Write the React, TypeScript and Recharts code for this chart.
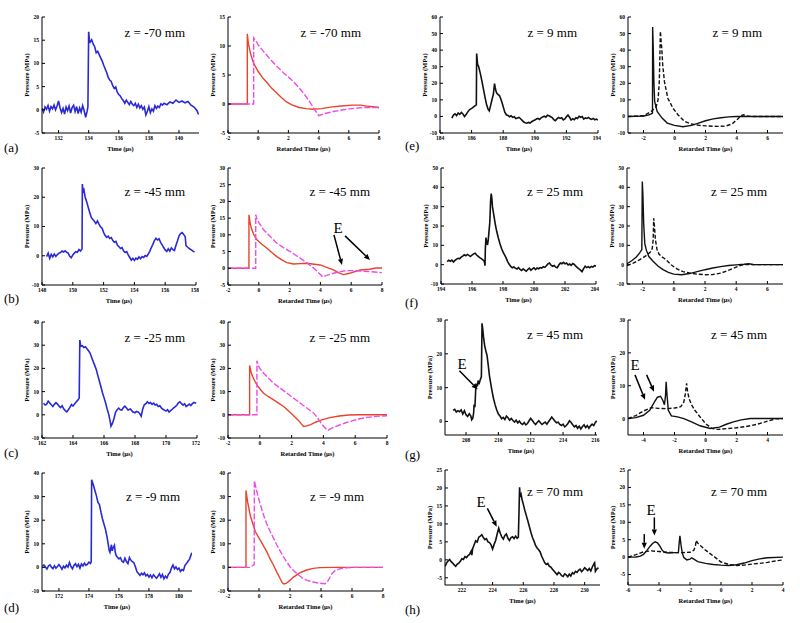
import React from "react";
import { LineChart, Line, XAxis, YAxis, ReferenceLine } from "recharts";

type Pt = [number, number];
type Seg = [number, number, number, number];

// ---- measured traces (left column of each pair) ----
const measA: Pt[] = [
  [130.9, 0.3], [131.0, -0.5], [131.1, 0.6], [131.2, 0.1], [131.3, 0.9], [131.4, -0.3], [131.5, 0.7], [131.6, 0.2],
  [131.7, 1.0], [131.8, 0.0], [131.9, 0.8], [132.0, 1.9], [132.1, 0.4], [132.2, -0.6], [132.3, 0.3], [132.4, -0.9],
  [132.5, 0.6], [132.6, -0.2], [132.7, 0.8], [132.8, -0.7], [132.9, 0.5], [133.0, 1.0], [133.1, -0.4], [133.2, 0.7],
  [133.3, -0.8], [133.4, 0.4], [133.5, -0.5], [133.6, 0.9], [133.7, -0.2], [133.8, -1.6], [133.9, -0.3], [133.95, 0.6],
  [134.0, 16.8], [134.05, 15.0], [134.1, 14.6], [134.2, 15.1], [134.3, 14.2], [134.4, 13.6], [134.5, 12.3], [134.6, 12.6],
  [134.7, 11.9], [134.8, 11.2], [134.9, 10.5], [135.0, 9.6], [135.1, 8.8], [135.2, 8.0], [135.3, 7.0], [135.4, 6.4],
  [135.5, 6.1], [135.6, 5.2], [135.7, 4.6], [135.8, 4.9], [135.9, 3.8], [136.0, 3.3], [136.1, 3.0], [136.2, 2.4],
  [136.3, 2.0], [136.4, 1.4], [136.5, 2.1], [136.6, 1.6], [136.7, 1.1], [136.8, 1.8], [136.9, 1.2], [137.0, 0.9],
  [137.1, 1.4], [137.2, 0.5], [137.3, 1.2], [137.4, 0.4], [137.5, 0.9], [137.6, 0.1], [137.7, 0.6], [137.8, -1.1],
  [137.9, -0.3], [138.0, 0.7], [138.1, -0.6], [138.2, 0.2], [138.3, -0.3], [138.4, 0.9], [138.5, 0.3], [138.6, 0.8],
  [138.7, 0.5], [138.8, 1.3], [138.9, 1.0], [139.0, 1.4], [139.2, 1.1], [139.4, 1.7], [139.6, 1.4], [139.8, 2.1],
  [140.0, 1.6], [140.2, 1.9], [140.4, 1.5], [140.6, 1.8], [140.8, 1.0], [141.0, 0.6], [141.2, -0.2], [141.3, -1.0],
];

const measB: Pt[] = [
  [148.3, -0.3], [148.4, 0.9], [148.5, -0.9], [148.6, 0.5], [148.7, -0.4], [148.8, 0.6], [148.9, -0.2], [149.0, 0.4],
  [149.1, 0.9], [149.2, 1.1], [149.3, 1.6], [149.4, 1.3], [149.5, 1.7], [149.6, 1.2], [149.7, 0.9], [149.8, -0.2],
  [149.9, -0.7], [150.0, 0.3], [150.1, 0.9], [150.2, 1.4], [150.3, 1.2], [150.4, 2.1], [150.5, 1.6], [150.6, 2.3],
  [150.62, 24.5], [150.66, 22.0], [150.72, 22.6], [150.8, 20.1], [150.9, 18.5], [151.0, 16.6], [151.1, 14.8], [151.2, 13.1],
  [151.3, 12.4], [151.4, 11.8], [151.5, 11.0], [151.6, 11.9], [151.7, 10.8], [151.8, 9.9], [151.9, 9.4], [152.0, 8.0],
  [152.1, 6.9], [152.2, 6.3], [152.3, 6.7], [152.4, 5.9], [152.5, 6.2], [152.6, 5.2], [152.7, 4.6], [152.8, 4.9],
  [152.9, 3.6], [153.0, 3.1], [153.1, 2.5], [153.2, 2.8], [153.3, 1.6], [153.4, 1.1], [153.5, 1.4], [153.6, 0.3],
  [153.7, -0.6], [153.8, -1.5], [153.9, -0.9], [154.0, -1.6], [154.1, -0.8], [154.2, -1.2], [154.3, -0.4], [154.4, -1.0],
  [154.5, -0.3], [154.6, -0.6], [154.7, 0.1], [154.8, -0.2], [154.9, 0.6], [155.0, 1.5], [155.1, 2.8], [155.2, 3.9],
  [155.3, 5.2], [155.4, 6.0], [155.5, 5.4], [155.6, 5.8], [155.7, 4.6], [155.8, 3.7], [155.9, 2.8], [156.0, 2.0],
  [156.1, 1.5], [156.2, 2.4], [156.3, 1.6], [156.4, 2.7], [156.5, 2.1], [156.6, 1.8], [156.7, 3.6], [156.8, 5.1],
  [156.9, 6.8], [157.0, 7.6], [157.1, 7.9], [157.2, 7.3], [157.3, 6.5], [157.35, 3.5], [157.45, 3.0], [157.6, 2.3],
  [157.7, 2.0], [157.8, 1.6], [157.9, 1.3],
];

const measC: Pt[] = [
  [162.1, 5.0], [162.2, 4.2], [162.3, 4.6], [162.4, 5.9], [162.5, 5.1], [162.6, 4.3], [162.7, 3.6], [162.8, 4.5],
  [162.9, 5.2], [163.0, 4.6], [163.1, 3.7], [163.2, 3.1], [163.3, 3.9], [163.4, 2.6], [163.5, 1.8], [163.6, 1.3],
  [163.7, 2.2], [163.8, 3.2], [163.9, 4.4], [164.0, 3.8], [164.1, 4.7], [164.2, 5.5], [164.3, 6.2], [164.4, 7.2],
  [164.44, 32.2], [164.5, 29.5], [164.6, 29.8], [164.7, 29.0], [164.8, 29.3], [164.9, 28.5], [165.0, 27.6], [165.1, 26.6],
  [165.2, 24.8], [165.3, 23.0], [165.4, 21.3], [165.5, 19.5], [165.6, 17.0], [165.7, 14.6], [165.8, 12.1], [165.9, 9.5],
  [166.0, 7.4], [166.1, 5.2], [166.2, 2.6], [166.3, 0.3], [166.4, -2.8], [166.45, -4.9], [166.55, -3.6], [166.65, -1.5],
  [166.75, 1.2], [166.85, 2.2], [166.95, 2.9], [167.05, 2.2], [167.15, 2.0], [167.25, 3.1], [167.35, 3.7], [167.45, 2.9],
  [167.55, 2.1], [167.7, 2.5], [167.85, 1.3], [168.0, 0.9], [168.1, 1.5], [168.2, 1.2], [168.3, 0.6], [168.4, -0.6],
  [168.5, 2.5], [168.6, 4.3], [168.7, 4.8], [168.8, 5.6], [168.9, 4.9], [169.0, 5.3], [169.1, 4.5], [169.2, 5.0],
  [169.3, 4.2], [169.4, 4.5], [169.5, 3.6], [169.6, 3.9], [169.7, 3.0], [169.8, 2.4], [169.9, 2.0], [170.0, 1.6],
  [170.1, 2.2], [170.2, 1.2], [170.3, 1.8], [170.4, 2.4], [170.5, 3.0], [170.6, 3.5], [170.7, 4.1], [170.8, 5.2],
  [170.9, 5.6], [171.0, 4.8], [171.1, 4.2], [171.2, 4.8], [171.3, 3.6], [171.4, 4.1], [171.5, 4.6], [171.6, 4.0],
  [171.7, 4.8], [171.8, 5.3], [171.95, 5.0],
];

const measD: Pt[] = [
  [170.9, 0.4], [171.0, 1.0], [171.1, 0.2], [171.2, -0.7], [171.3, 0.6], [171.4, 1.1], [171.5, 0.1], [171.6, -0.5],
  [171.7, 0.7], [171.8, -0.3], [171.9, 0.4], [172.0, 1.2], [172.1, 0.3], [172.2, -0.8], [172.3, 0.5], [172.4, -0.2],
  [172.5, 0.9], [172.6, 0.1], [172.7, 2.1], [172.8, 0.4], [172.9, -0.6], [173.0, 0.8], [173.1, 1.6], [173.2, 0.3],
  [173.3, 1.3], [173.4, -0.3], [173.5, 1.5], [173.6, 0.6], [173.7, 1.8], [173.8, 0.9], [173.9, 1.4], [174.0, 2.2],
  [174.1, 1.7], [174.15, 2.4], [174.18, 37.1], [174.25, 35.8], [174.3, 34.8], [174.4, 32.5], [174.5, 30.3], [174.6, 27.5],
  [174.7, 26.6], [174.8, 23.4], [174.9, 20.6], [175.0, 18.4], [175.1, 16.2], [175.2, 13.1], [175.3, 9.2], [175.35, 7.1],
  [175.4, 6.4], [175.45, 8.0], [175.5, 9.6], [175.55, 7.0], [175.6, 8.1], [175.7, 9.4], [175.75, 6.6], [175.8, 5.2],
  [175.9, 4.3], [176.0, 3.6], [176.1, 4.1], [176.2, 2.6], [176.3, 2.2], [176.4, 3.9], [176.5, 2.5], [176.6, 1.6],
  [176.7, 4.2], [176.8, 3.0], [176.9, 2.4], [177.0, 1.9], [177.1, 0.2], [177.2, -1.8], [177.3, -2.6], [177.4, -3.4],
  [177.5, -2.5], [177.6, -3.1], [177.7, -2.3], [177.8, -3.6], [177.9, -3.0], [178.0, -4.1], [178.1, -3.2], [178.2, -4.4],
  [178.3, -3.1], [178.4, -3.9], [178.5, -4.6], [178.6, -3.8], [178.7, -2.7], [178.8, -4.2], [178.9, -3.0], [179.0, -4.8],
  [179.1, -3.7], [179.2, -4.5], [179.3, -2.9], [179.4, -2.2], [179.5, -0.3], [179.6, 1.0], [179.7, -0.6], [179.8, 0.2],
  [179.9, -0.9], [180.0, -0.3], [180.1, -1.7], [180.2, -0.9], [180.3, -1.3], [180.4, 0.9], [180.5, 1.6], [180.6, 2.6],
  [180.7, 3.4], [180.8, 5.2], [180.85, 6.2],
];

const measE: Pt[] = [
  [184.75, -1.0], [184.85, 0.8], [184.95, 1.6], [185.05, 0.5], [185.15, 2.1], [185.25, 1.2], [185.35, 2.4], [185.45, 1.5],
  [185.55, -0.1], [185.65, 1.1], [185.75, 2.6], [185.85, 3.9], [185.95, 4.6], [186.05, 5.2], [186.15, 5.9], [186.25, 6.6],
  [186.3, 7.0], [186.32, 38.0], [186.38, 31.5], [186.45, 30.0], [186.55, 26.0], [186.65, 21.5], [186.75, 16.5], [186.85, 11.5],
  [186.95, 7.0], [187.05, 4.2], [187.12, 3.3], [187.2, 6.5], [187.3, 10.5], [187.38, 13.5], [187.45, 19.8], [187.5, 17.2],
  [187.55, 15.0], [187.6, 14.0], [187.68, 13.2], [187.76, 12.6], [187.85, 10.5], [187.93, 8.2], [188.0, 5.9], [188.1, 2.5],
  [188.2, 1.0], [188.3, 0.6], [188.4, -0.2], [188.5, 0.4], [188.6, -0.6], [188.7, -0.2], [188.8, -1.3], [188.9, -1.0],
  [189.0, -0.6], [189.1, -1.4], [189.2, -2.4], [189.3, -3.4], [189.4, -3.8], [189.5, -4.1], [189.6, -3.6], [189.7, -4.0],
  [189.8, -3.2], [189.9, -2.6], [190.0, -2.2], [190.1, -1.6], [190.2, -1.2], [190.3, -1.8], [190.4, -0.9], [190.5, -0.3],
  [190.6, 0.2], [190.7, -0.4], [190.8, 0.7], [190.9, 0.4], [191.0, -0.2], [191.1, -0.7], [191.2, -1.9], [191.3, -2.6],
  [191.4, -1.5], [191.5, -0.6], [191.6, -1.2], [191.7, -0.8], [191.8, -2.1], [191.9, -1.5], [192.0, -0.2], [192.1, 0.9],
  [192.2, -0.5], [192.3, -2.2], [192.4, -1.4], [192.5, -2.0], [192.6, -0.8], [192.7, -1.3], [192.8, 0.1], [192.9, -0.5],
  [193.0, -0.1], [193.1, -1.6], [193.2, -0.9], [193.3, -1.2], [193.4, -0.6], [193.5, -1.4], [193.6, -1.8], [193.7, -1.2],
  [193.8, -2.0], [193.9, -1.6], [194.0, -2.2],
];

const measF: Pt[] = [
  [194.4, 1.6], [194.5, 2.3], [194.6, 1.8], [194.7, 2.4], [194.8, 1.4], [194.9, 2.2], [195.0, 2.9], [195.1, 3.3],
  [195.2, 3.0], [195.3, 3.9], [195.4, 4.4], [195.5, 5.1], [195.6, 4.6], [195.7, 5.3], [195.8, 4.8], [195.9, 4.2],
  [196.0, 5.0], [196.1, 5.6], [196.2, 5.9], [196.3, 5.0], [196.4, 4.3], [196.5, 3.6], [196.6, 3.1], [196.7, 2.5],
  [196.8, 1.6], [196.84, -0.5], [196.86, 8.0], [196.9, 14.0], [196.95, 11.5], [197.0, 10.2], [197.05, 13.0], [197.1, 17.5],
  [197.15, 22.0], [197.2, 33.0], [197.24, 36.8], [197.28, 34.5], [197.32, 30.0], [197.4, 26.0], [197.5, 21.0], [197.6, 17.0],
  [197.7, 13.8], [197.8, 11.0], [197.9, 8.5], [198.0, 6.6], [198.1, 5.0], [198.2, 3.5], [198.3, 1.6], [198.4, 0.2],
  [198.5, -0.9], [198.6, -1.6], [198.7, -1.2], [198.8, -1.8], [198.9, -2.2], [199.0, -1.5], [199.1, -2.4], [199.2, -3.0],
  [199.3, -2.2], [199.4, -2.8], [199.5, -3.4], [199.6, -2.5], [199.7, -1.8], [199.8, -2.9], [199.9, -2.2], [200.0, -1.6],
  [200.1, -2.5], [200.2, -1.7], [200.3, -2.1], [200.4, -1.5], [200.5, -1.8], [200.6, -1.0], [200.7, -1.4], [200.8, -0.6],
  [200.9, 0.4], [201.0, 0.8], [201.1, -0.3], [201.2, -0.8], [201.3, -0.4], [201.4, -1.3], [201.5, -1.6], [201.6, -0.2],
  [201.7, 0.9], [201.8, 0.5], [201.9, 1.2], [202.0, 0.4], [202.1, 0.8], [202.2, -0.2], [202.3, 0.3], [202.4, -0.4],
  [202.5, 0.6], [202.6, 0.1], [202.7, -0.8], [202.8, -1.5], [202.9, -2.2], [203.0, -2.8], [203.1, -3.6], [203.2, -2.0],
  [203.3, -0.8], [203.4, -1.5], [203.5, -1.0], [203.6, -1.6], [203.7, -0.9], [203.8, -1.2], [203.9, -0.5], [204.0, -0.8],
];

const measG: Pt[] = [
  [207.2, 3.3], [207.3, 3.6], [207.4, 2.8], [207.5, 3.2], [207.6, 2.9], [207.7, 3.4], [207.8, 2.2], [207.9, 3.2],
  [208.0, 2.0], [208.1, 1.5], [208.2, 2.3], [208.3, 1.6], [208.35, 0.5], [208.42, 1.0], [208.47, 2.5], [208.5, 5.0],
  [208.55, 4.2], [208.6, 9.5], [208.65, 11.2], [208.7, 10.4], [208.75, 12.1], [208.8, 11.0], [208.85, 11.8], [208.9, 12.6],
  [208.95, 13.2], [208.99, 29.0], [209.03, 27.5], [209.08, 25.0], [209.15, 22.5], [209.22, 21.0], [209.3, 19.5], [209.37, 16.8],
  [209.45, 13.5], [209.52, 11.5], [209.6, 9.2], [209.7, 6.8], [209.8, 4.9], [209.9, 3.4], [210.0, 2.2], [210.1, 1.6],
  [210.2, 0.8], [210.3, 1.2], [210.4, 0.6], [210.5, 1.6], [210.6, 1.1], [210.7, 0.4], [210.8, 0.9], [210.9, 0.3],
  [211.0, -0.2], [211.1, 0.4], [211.2, -0.4], [211.3, 0.1], [211.4, -0.6], [211.5, -0.9], [211.6, -0.3], [211.7, -1.0],
  [211.8, -0.6], [211.9, 0.2], [212.0, 0.9], [212.1, 0.3], [212.2, -0.4], [212.3, -0.9], [212.4, -0.3], [212.5, 0.2],
  [212.6, -0.4], [212.7, -0.9], [212.8, -0.5], [212.9, -0.2], [213.0, -0.8], [213.1, -0.1], [213.2, 0.6], [213.3, 1.3],
  [213.4, 0.7], [213.5, 0.1], [213.6, -0.4], [213.7, -0.2], [213.8, -0.9], [213.9, -1.2], [214.0, -0.8], [214.1, -1.6],
  [214.2, -1.2], [214.3, -0.6], [214.4, 0.2], [214.5, -0.3], [214.6, -1.0], [214.7, -1.6], [214.8, -1.2], [214.9, -2.0],
  [215.0, -1.4], [215.1, -2.2], [215.2, -1.5], [215.3, -1.0], [215.4, -1.8], [215.5, -1.2], [215.6, -2.0], [215.7, -1.3],
  [215.8, -0.8], [215.9, -1.2], [216.0, -0.3], [216.08, 0.2],
];

const measH: Pt[] = [
  [220.9, -1.8], [221.0, -0.9], [221.1, -0.3], [221.2, 0.1], [221.3, -0.5], [221.4, -0.9], [221.5, -1.4], [221.6, -1.8],
  [221.7, -1.2], [221.8, -0.9], [221.9, -0.4], [222.0, 0.3], [222.1, 0.1], [222.2, 0.9], [222.3, 0.6], [222.4, 1.2],
  [222.5, 1.5], [222.6, 2.4], [222.65, 1.3], [222.7, 3.1], [222.8, 4.2], [222.9, 5.3], [223.0, 5.0], [223.1, 6.3],
  [223.2, 6.6], [223.3, 7.0], [223.4, 6.2], [223.5, 5.6], [223.6, 5.9], [223.7, 5.0], [223.8, 4.8], [223.9, 4.2],
  [224.0, 3.0], [224.1, 4.3], [224.2, 5.4], [224.3, 7.2], [224.4, 8.8], [224.5, 7.4], [224.6, 6.4], [224.7, 5.8],
  [224.8, 6.8], [224.9, 7.2], [225.0, 6.0], [225.1, 5.4], [225.2, 6.2], [225.3, 6.4], [225.4, 5.9], [225.5, 6.6],
  [225.6, 6.0], [225.68, 6.3], [225.72, 13.0], [225.76, 20.2], [225.8, 17.5], [225.86, 18.2], [225.92, 16.8], [226.0, 15.5],
  [226.1, 13.8], [226.2, 12.3], [226.3, 10.8], [226.4, 9.2], [226.5, 7.6], [226.6, 6.2], [226.7, 5.2], [226.8, 4.0],
  [226.9, 3.3], [227.0, 2.8], [227.1, 2.2], [227.2, 1.0], [227.3, 0.1], [227.4, -0.8], [227.5, -1.3], [227.6, -1.0],
  [227.7, -1.8], [227.8, -2.0], [227.9, -2.6], [228.0, -3.1], [228.1, -3.6], [228.2, -4.1], [228.3, -3.5], [228.4, -3.8],
  [228.5, -4.4], [228.6, -4.6], [228.7, -3.9], [228.8, -4.2], [228.9, -4.7], [229.0, -4.0], [229.1, -4.5], [229.2, -3.6],
  [229.3, -3.9], [229.4, -3.2], [229.5, -3.5], [229.6, -2.9], [229.7, -2.6], [229.8, -3.3], [229.9, -2.8], [230.0, -2.2],
  [230.1, -2.6], [230.2, -3.0], [230.3, -2.4], [230.4, -3.1], [230.5, -2.0], [230.6, -1.1], [230.65, -0.8], [230.7, -3.2],
  [230.8, -2.5], [230.9, -2.2],
];

// ---- simulated traces (right chart of each pair) ----
const simA: Pt[] = [
  [-2, 0], [-0.72, 0], [-0.72, 12.1], [-0.65, 10.4], [-0.5, 8.6], [-0.3, 7.0], [0, 5.6], [0.3, 4.5], [0.55, 3.8],
  [0.9, 2.7], [1.2, 2.0], [1.5, 1.2], [1.85, 0.4], [2.2, -0.1], [2.7, -0.6], [3.2, -0.8], [3.6, -0.9], [4.2, -0.8],
  [4.9, -0.5], [5.5, -0.35], [6.2, -0.2], [6.8, -0.2], [7.3, -0.4], [8, -0.6],
];
const simAlt: Pt[] = [
  [-2, 0], [-0.3, 0], [-0.3, 11.4], [-0.15, 10.9], [0, 10.2], [0.4, 8.9], [0.8, 7.7], [1.2, 6.6], [1.7, 5.3],
  [2.2, 4.2], [2.6, 3.1], [3.0, 1.9], [3.4, 0.4], [3.7, -0.8], [4.0, -2.0], [4.5, -1.6], [5.0, -1.3], [5.6, -1.0],
  [6.2, -0.8], [7.0, -0.6], [8, -0.6],
];
const simB: Pt[] = [
  [-2, 0], [-0.64, 0], [-0.64, 16], [-0.55, 13.2], [-0.45, 11.5], [-0.3, 9.8], [-0.12, 8.5], [0.2, 7.2], [0.53, 6],
  [0.85, 4.7], [1.17, 3.5], [1.5, 2.5], [1.82, 1.7], [2.25, 1.3], [2.7, 1.4], [3.1, 1.5], [3.6, 1.2], [4.0, 1.0],
  [4.4, 0.3], [4.85, -0.5], [5.2, -1.4], [5.5, -1.9], [5.9, -1.5], [6.3, -0.9], [6.6, -0.5], [7.2, -0.3], [7.6, 0.1], [8, 0.1],
];
const simBlt: Pt[] = [
  [-2, 0], [-0.2, 0], [-0.2, 16], [-0.1, 14.4], [0.1, 13], [0.3, 11.6], [0.53, 10.5], [0.85, 9], [1.17, 7.5],
  [1.6, 6.2], [2.04, 5], [2.4, 3.9], [2.7, 3], [3.0, 2], [3.3, 1], [3.65, -0.3], [3.98, -1.8], [4.15, -2.6],
  [4.4, -2.1], [4.85, -1.5], [5.3, -1.0], [5.7, -0.7], [6.2, -0.7], [6.6, -0.8], [7.2, -1.0], [8, -1.3],
];
const simC: Pt[] = [
  [-2, 0], [-0.64, 0], [-0.64, 21.3], [-0.55, 18.5], [-0.49, 17.1], [-0.35, 15], [-0.18, 12.9], [0.05, 10.8],
  [0.24, 9.3], [0.55, 7.8], [0.87, 6.4], [1.2, 4.9], [1.5, 3.6], [1.8, 1.7], [2.1, -0.2], [2.4, -2.2], [2.6, -3.8],
  [2.75, -5.0], [2.95, -4.8], [3.2, -4.2], [3.5, -3.2], [3.9, -2.2], [4.4, -1.2], [5.0, -0.5], [5.6, -0.1], [6.2, 0], [8, 0],
];
const simClt: Pt[] = [
  [-2, 0], [-0.18, 0], [-0.18, 23.3], [-0.05, 20.5], [0.24, 17.9], [0.55, 15.7], [0.87, 13.6], [1.3, 11.4],
  [1.71, 9.3], [2.1, 7.3], [2.55, 5.0], [3.0, 2.7], [3.39, 0.7], [3.65, -1.5], [3.9, -4.0], [4.15, -6.0], [4.3, -6.6],
  [4.6, -5.5], [5.07, -4.3], [5.5, -3.2], [5.9, -2.4], [6.3, -1.7], [6.74, -1.1], [7.3, -0.7], [8, -0.4],
];
const simD: Pt[] = [
  [-2, 0], [-0.84, 0], [-0.84, 32.6], [-0.74, 28], [-0.57, 22.2], [-0.4, 18.5], [-0.24, 15.2], [0.08, 11.6],
  [0.3, 9.0], [0.5, 6.7], [0.7, 3.8], [0.93, 1.0], [1.15, -2.0], [1.36, -4.7], [1.5, -6.5], [1.6, -7.0], [1.75, -6.8],
  [2.0, -5.5], [2.2, -4.2], [2.6, -2.4], [3.07, -1.1], [3.5, -0.4], [3.93, -0.1], [4.8, 0], [8, 0],
];
const simDlt: Pt[] = [
  [-2, 0], [-0.6, 0], [-0.45, 0.6], [-0.31, 1.2], [-0.3, 36.7], [-0.17, 33], [-0.03, 29.3], [0.29, 22.2], [0.5, 18.5],
  [0.72, 15.2], [0.95, 12.2], [1.15, 9.5], [1.38, 6.8], [1.58, 4.5], [1.8, 2.2], [2.0, 0.3], [2.2, -1.1], [2.5, -3.0],
  [2.8, -4.5], [3.1, -5.5], [3.5, -6.2], [3.9, -6.7], [4.25, -6.9], [4.4, -6.3], [4.55, -4.5], [4.7, -2.7], [4.9, -1.4],
  [5.2, -0.6], [5.6, -0.2], [6.0, 0], [8, 0],
];
const simE: Pt[] = [
  [-3, 0], [-2.5, 0.1], [-2.0, 0.3], [-1.7, 0.8], [-1.5, 1.5], [-1.42, 2.0], [-1.41, 54], [-1.37, 41], [-1.33, 21],
  [-1.28, 9], [-1.12, 3], [-0.8, -1], [-0.47, -4], [0, -5.4], [0.54, -6.2], [1.1, -5.4], [1.5, -4.2], [2.0, -2.6],
  [2.5, -1.5], [3.0, -0.8], [3.5, -0.3], [4.0, 0], [7, 0],
];
const simElt: Pt[] = [
  [-3, 0], [-2.5, 0.1], [-2.0, 0.4], [-1.5, 3.0], [-1.18, 6.0], [-1.06, 10], [-0.98, 21], [-0.91, 51.4], [-0.86, 45],
  [-0.82, 41], [-0.76, 31], [-0.65, 21], [-0.43, 11], [-0.1, 5], [0.22, 1], [0.65, -3], [1.1, -4.6], [1.6, -5.4],
  [2.2, -5.8], [2.8, -6.0], [3.3, -5.8], [3.7, -4.6], [4.05, -1.8], [4.3, 0.4], [4.45, 1.0], [4.6, 0.3], [5.0, 0], [7, 0],
];
const simF: Pt[] = [
  [-3, 0.5], [-2.7, 2.0], [-2.4, 4.0], [-2.2, 6.0], [-2.05, 7.8], [-2.02, 43], [-1.98, 36], [-1.93, 21], [-1.86, 11],
  [-1.76, 7.5], [-1.6, 4.2], [-1.33, 1.8], [-1.0, -0.8], [-0.69, -2.6], [-0.35, -4.0], [0, -4.9], [0.5, -5.2],
  [1.0, -4.6], [1.5, -3.6], [2.0, -2.6], [2.5, -1.7], [3.0, -1.0], [3.5, -0.4], [4.0, -0.1], [4.5, 0.2], [4.8, 0.5],
  [5.1, 0.1], [5.5, 0], [7, 0],
];
const simFlt: Pt[] = [
  [-3, -0.5], [-2.6, 0.8], [-2.2, 2.5], [-1.8, 4.5], [-1.5, 6.5], [-1.38, 8.5], [-1.32, 13], [-1.29, 24], [-1.24, 20],
  [-1.18, 13], [-1.08, 8], [-0.95, 5.5], [-0.8, 4.2], [-0.6, 3.2], [-0.4, 1.8], [-0.15, -0.2], [0.2, -2.2], [0.6, -3.6],
  [1.0, -4.3], [1.5, -4.9], [2.0, -5.2], [2.5, -5.1], [3.0, -4.4], [3.5, -3.0], [4.0, -1.3], [4.3, -0.3], [4.5, 0], [7, 0],
];
const simG: Pt[] = [
  [-5, 0], [-4.5, 0.3], [-4.0, 1.0], [-3.6, 2.5], [-3.3, 5.0], [-3.1, 6.5], [-2.9, 6.8], [-2.75, 5.5], [-2.65, 4.2],
  [-2.58, 7], [-2.54, 11.2], [-2.48, 7], [-2.4, 2.5], [-2.2, 0.8], [-1.8, 0.5], [-1.4, 0], [-0.9, -1], [-0.35, -2.2],
  [0.3, -3.0], [0.9, -2.6], [1.3, -1.8], [1.8, -1.0], [2.3, -0.4], [2.9, 0], [5, 0],
];
const simGlt: Pt[] = [
  [-5, 0], [-4.5, 0.9], [-4.0, 2.3], [-3.5, 3.3], [-3.0, 3.1], [-2.5, 3.0], [-2.0, 3.2], [-1.6, 3.6], [-1.4, 5.0],
  [-1.3, 7.5], [-1.22, 10.7], [-1.15, 8], [-1.05, 6], [-0.9, 4.2], [-0.7, 2.6], [-0.4, 0.8], [0, -1.5], [0.4, -3.0],
  [0.8, -3.3], [1.5, -3.0], [2.0, -2.8], [2.5, -2.5], [3.0, -2.1], [3.5, -1.5], [4.0, -0.8], [4.5, -0.1], [5, 0],
];
const simH: Pt[] = [
  [-6, 0], [-5.5, 0.05], [-5.2, 0.3], [-5.0, 0.8], [-4.8, 1.8], [-4.6, 3.0], [-4.4, 4.0], [-4.25, 4.4], [-4.1, 4.1],
  [-3.95, 3.2], [-3.8, 2.0], [-3.65, 1.4], [-3.4, 1.2], [-3.0, 1.3], [-2.75, 1.3], [-2.7, 4.0], [-2.65, 6.1], [-2.58, 3.5],
  [-2.5, 1.2], [-2.4, -0.1], [-2.2, -0.8], [-2.0, -0.6], [-1.9, -0.2], [-1.75, -0.6], [-1.5, -1.3], [-1.0, -1.8],
  [-0.5, -2.1], [0, -2.3], [0.5, -2.4], [1.0, -2.2], [1.5, -1.7], [2.0, -1.0], [2.5, -0.5], [3.0, -0.2], [4, 0],
];
const simHlt: Pt[] = [
  [-6, 0], [-5.5, 0.7], [-5.0, 1.5], [-4.5, 1.8], [-4.0, 1.6], [-3.5, 1.4], [-3.0, 1.3], [-2.5, 1.3], [-2.0, 1.4],
  [-1.75, 2.0], [-1.65, 3.2], [-1.6, 4.8], [-1.5, 4.0], [-1.3, 3.2], [-1.0, 2.0], [-0.7, 1.0], [-0.4, 0], [0, -1.4],
  [0.5, -2.1], [1.0, -2.4], [1.5, -2.3], [2.0, -2.0], [2.5, -1.8], [3.0, -1.5], [3.5, -1.1], [4, -0.8],
];

// ---- "E" arrows, in data units: [x from, y from, x to, y to] ----
const arrowsB: Seg[] = [[4.88, 10.0, 5.4, 1.0], [5.6, 9.7, 7.22, 2.5]];
const arrowsGm: Seg[] = [[207.59, 15.0, 208.72, 9.5]];
const arrowsGs: Seg[] = [[-4.55, 13.3, -3.9, 5.7], [-3.8, 13.3, -3.32, 8.2]];
const arrowsHm: Seg[] = [[223.66, 14.3, 224.27, 9.2]];
const arrowsHs: Seg[] = [[-4.95, 6.6, -4.95, 2.4], [-4.3, 11.4, -4.3, 6.2]];

// ---- tick labels ----
const ticksRet = [-2, 0, 2, 4, 6, 8];
const ticksRetE = [-2, 0, 2, 4, 6];
const ticksRetG = [-4, -2, 0, 2, 4];
const ticksRetH = [-6, -4, -2, 0, 2, 4];

const BLUE = "#2a2ad4";
const RED = "#e8442a";
const PINK = "#ee4ae8";
const INK = "#111";
const FONT = "'Liberation Serif', 'Times New Roman', serif";

const AX = 40;
const BX = 30;

interface Trace {
  pts: Pt[];
  color: string;
  dash?: string;
  w?: number;
}

interface PanelDef {
  box: [number, number, number, number];
  xDomain: [number, number];
  xTicks: number[];
  yDomain: [number, number];
  yTicks: number[];
  xLabel: string;
  traces: Trace[];
  arrows?: Seg[];
}

function ArrowShape(props: any) {
  const { x1, y1, x2, y2 } = props;
  if ([x1, y1, x2, y2].some((v) => typeof v !== "number" || isNaN(v))) return null;
  const a = Math.atan2(y2 - y1, x2 - x1);
  const head = 6;
  const half = 2.6;
  const bx = x2 - head * Math.cos(a);
  const by = y2 - head * Math.sin(a);
  const nx = -Math.sin(a) * half;
  const ny = Math.cos(a) * half;
  return (
    <g>
      <line x1={x1} y1={y1} x2={bx} y2={by} stroke="#000" strokeWidth={1.5} />
      <polygon points={`${x2},${y2} ${bx + nx},${by + ny} ${bx - nx},${by - ny}`} fill="#000" />
    </g>
  );
}

const tickFont = { fontSize: 5.5, fontWeight: 700, fill: "#000", fontFamily: FONT };
const labelStyle = { fontSize: 6.5, fontWeight: 700, fill: "#000", fontFamily: FONT };

function Panel({ box, xDomain, xTicks, yDomain, yTicks, xLabel, traces, arrows = [] }: PanelDef) {
  const [x0, y0, x1, y1] = box;
  return (
    <div style={{ position: "absolute", left: x0 - AX, top: y0 - 3 }}>
      <LineChart
        width={x1 - x0 + AX + 3}
        height={y1 - y0 + BX + 3}
        margin={{ top: 3, right: 3, bottom: 0, left: 0 }}
      >
        <XAxis
          type="number"
          dataKey="t"
          domain={xDomain}
          ticks={xTicks}
          allowDataOverflow
          height={BX}
          stroke="#000"
          tickSize={-3}
          tickMargin={6}
          tick={tickFont}
          label={{ value: xLabel, position: "insideBottom", offset: 12, style: labelStyle }}
        />
        <XAxis
          xAxisId="top"
          orientation="top"
          type="number"
          domain={xDomain}
          ticks={xTicks}
          allowDataOverflow
          height={0}
          stroke="#000"
          tickSize={-3}
          tick={false}
        />
        <YAxis
          type="number"
          domain={yDomain}
          ticks={yTicks}
          allowDataOverflow
          width={AX}
          stroke="#000"
          tickSize={-3}
          tickMargin={6}
          tick={tickFont}
          label={{
            value: "Pressure (MPa)",
            angle: -90,
            position: "insideLeft",
            offset: 25,
            style: { ...labelStyle, textAnchor: "middle" },
          }}
        />
        <YAxis
          yAxisId="right"
          orientation="right"
          type="number"
          domain={yDomain}
          ticks={yTicks}
          allowDataOverflow
          width={0}
          stroke="#000"
          tickSize={-3}
          tick={false}
        />
        {traces.map((tr, i) => (
          <Line
            key={i}
            data={tr.pts.map(([t, p]) => ({ t, p }))}
            dataKey="p"
            type="linear"
            stroke={tr.color}
            strokeWidth={tr.w ?? 1.4}
            strokeDasharray={tr.dash}
            dot={false}
            activeDot={false}
            isAnimationActive={false}
          />
        ))}
        {arrows.map((s, i) => (
          <ReferenceLine
            key={`a${i}`}
            segment={[{ x: s[0], y: s[1] }, { x: s[2], y: s[3] }]}
            shape={ArrowShape}
            ifOverflow="visible"
          />
        ))}
      </LineChart>
    </div>
  );
}

const T = "Time (\u00b5s)";
const RT = "Retarded Time (\u00b5s)";

const panels: PanelDef[] = [
  { box: [42, 17, 199, 133], xDomain: [130.9, 141.33], xTicks: [132, 134, 136, 138, 140], yDomain: [-5, 20], yTicks: [-5, 0, 5, 10, 15, 20], xLabel: T, traces: [{ pts: measA, color: BLUE, w: 1.6 }] },
  { box: [228, 17, 379, 133], xDomain: [-2, 8], xTicks: ticksRet, yDomain: [-5, 15], yTicks: [-5, 0, 5, 10, 15], xLabel: RT, traces: [{ pts: simA, color: RED }, { pts: simAlt, color: PINK, dash: "6 2" }] },
  { box: [42, 168, 196, 285], xDomain: [148, 158], xTicks: [148, 150, 152, 154, 156, 158], yDomain: [-10, 30], yTicks: [-10, 0, 10, 20, 30], xLabel: T, traces: [{ pts: measB, color: BLUE, w: 1.6 }] },
  { box: [228, 168, 382, 285], xDomain: [-2, 8], xTicks: ticksRet, yDomain: [-5, 30], yTicks: [-5, 0, 5, 10, 15, 20, 25, 30], xLabel: RT, traces: [{ pts: simB, color: RED }, { pts: simBlt, color: PINK, dash: "6 2" }], arrows: arrowsB },
  { box: [42, 322, 197, 438], xDomain: [162, 172], xTicks: [162, 164, 166, 168, 170, 172], yDomain: [-10, 40], yTicks: [-10, 0, 10, 20, 30, 40], xLabel: T, traces: [{ pts: measC, color: BLUE, w: 1.6 }] },
  { box: [228, 322, 387, 438], xDomain: [-2, 8], xTicks: ticksRet, yDomain: [-10, 40], yTicks: [-10, 0, 10, 20, 30, 40], xLabel: RT, traces: [{ pts: simC, color: RED }, { pts: simClt, color: PINK, dash: "6 2" }] },
  { box: [42, 473, 192, 591], xDomain: [170.87, 180.87], xTicks: [172, 174, 176, 178, 180], yDomain: [-10, 40], yTicks: [-10, 0, 10, 20, 30, 40], xLabel: T, traces: [{ pts: measD, color: BLUE, w: 1.6 }] },
  { box: [228, 473, 383, 591], xDomain: [-2, 8], xTicks: ticksRet, yDomain: [-10, 40], yTicks: [-10, 0, 10, 20, 30, 40], xLabel: RT, traces: [{ pts: simD, color: RED }, { pts: simDlt, color: PINK, dash: "6 2" }] },
  { box: [440, 17, 598, 133], xDomain: [184, 194], xTicks: [184, 186, 188, 190, 192, 194], yDomain: [-10, 60], yTicks: [-10, 0, 10, 20, 30, 40, 50, 60], xLabel: T, traces: [{ pts: measE, color: INK, w: 1.6 }] },
  { box: [628, 17, 783, 133], xDomain: [-3, 7], xTicks: ticksRetE, yDomain: [-10, 60], yTicks: [-10, 0, 10, 20, 30, 40, 50, 60], xLabel: RT, traces: [{ pts: simE, color: INK }, { pts: simElt, color: INK, dash: "4 2" }] },
  { box: [441, 168, 596, 284], xDomain: [194, 204], xTicks: [194, 196, 198, 200, 202, 204], yDomain: [-10, 50], yTicks: [-10, 0, 10, 20, 30, 40, 50], xLabel: T, traces: [{ pts: measF, color: INK, w: 1.6 }] },
  { box: [627, 168, 783, 284], xDomain: [-3, 7], xTicks: ticksRetE, yDomain: [-10, 50], yTicks: [-10, 0, 10, 20, 30, 40, 50], xLabel: RT, traces: [{ pts: simF, color: INK }, { pts: simFlt, color: INK, dash: "4 2" }] },
  { box: [445, 320, 597, 435], xDomain: [206.7, 216.1], xTicks: [208, 210, 212, 214, 216], yDomain: [-4, 30], yTicks: [0, 10, 20, 30], xLabel: T, traces: [{ pts: measG, color: INK, w: 1.6 }], arrows: arrowsGm },
  { box: [628, 320, 783, 435], xDomain: [-5, 5], xTicks: ticksRetG, yDomain: [-5, 30], yTicks: [0, 10, 20, 30], xLabel: RT, traces: [{ pts: simG, color: INK }, { pts: simGlt, color: INK, dash: "4 2" }], arrows: arrowsGs },
  { box: [445, 470, 600, 585], xDomain: [220.9, 231], xTicks: [222, 224, 226, 228, 230], yDomain: [-7, 25], yTicks: [-5, 0, 5, 10, 15, 20, 25], xLabel: T, traces: [{ pts: measH, color: INK, w: 1.6 }], arrows: arrowsHm },
  { box: [628, 470, 783, 585], xDomain: [-6, 4], xTicks: ticksRetH, yDomain: [-8, 25], yTicks: [-5, 0, 5, 10, 15, 20, 25], xLabel: RT, traces: [{ pts: simH, color: INK }, { pts: simHlt, color: INK, dash: "4 2" }], arrows: arrowsHs },
];

// position labels: [text, right edge x, centre y]
const zLabels: [string, number, number][] = [
  ["z = -70 mm", 185, 33], ["z = -70 mm", 361, 33],
  ["z = -45 mm", 185, 192], ["z = -45 mm", 370, 192],
  ["z = -25 mm", 185, 338], ["z = -25 mm", 370, 338],
  ["z = -9 mm", 180, 497], ["z = -9 mm", 364, 497],
  ["z = 9 mm", 577, 33], ["z = 9 mm", 762, 33],
  ["z = 25 mm", 583, 192], ["z = 25 mm", 767, 192],
  ["z = 45 mm", 583, 335], ["z = 45 mm", 767, 335],
  ["z = 70 mm", 583, 492], ["z = 70 mm", 767, 492],
];

const panelTags: [string, number, number][] = [
  ["(a)", 4, 148], ["(b)", 4, 299], ["(c)", 4, 453], ["(d)", 4, 608],
  ["(e)", 405, 146], ["(f)", 405, 303], ["(g)", 405, 455], ["(h)", 405, 610],
];

const eTags: [number, number][] = [[338, 228], [462, 364], [635, 365], [481, 502], [651, 510]];

export default function App() {
  return (
    <div
      style={{
        position: "absolute",
        left: 0,
        top: 0,
        width: 800,
        height: 623,
        background: "#fff",
        overflow: "hidden",
        fontFamily: FONT,
        color: "#000",
      }}
    >
      {panels.map((p, i) => (
        <Panel key={i} {...p} />
      ))}
      {zLabels.map(([txt, rx, cy], i) => (
        <div
          key={`z${i}`}
          style={{ position: "absolute", right: 800 - rx, top: cy - 8, fontSize: 13, lineHeight: "16px", whiteSpace: "nowrap" }}
        >
          {txt}
        </div>
      ))}
      {panelTags.map(([txt, lx, cy], i) => (
        <div key={`p${i}`} style={{ position: "absolute", left: lx, top: cy - 8, fontSize: 13, lineHeight: "16px" }}>
          {txt}
        </div>
      ))}
      {eTags.map(([cx, cy], i) => (
        <div
          key={`e${i}`}
          style={{ position: "absolute", left: cx - 10, width: 20, textAlign: "center", top: cy - 8, fontSize: 15, lineHeight: "16px" }}
        >
          E
        </div>
      ))}
    </div>
  );
}
